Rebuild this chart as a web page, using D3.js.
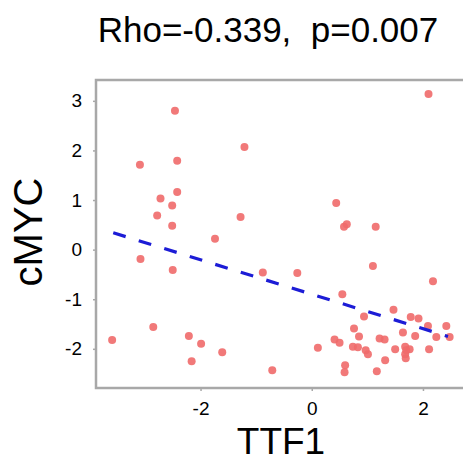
<!DOCTYPE html>
<html>
<head>
<meta charset="utf-8">
<script src="https://cdn.jsdelivr.net/npm/d3@7"></script>
<style>
html,body{margin:0;padding:0;background:#fff;overflow:hidden;}
text{font-family:"Liberation Sans",Arial,sans-serif;}
</style>
</head>
<body>
<svg id="chart" width="463" height="462"></svg>
<script>
const title = "Rho=-0.339,  p=0.007";
const xLabel = "TTF1";
const yLabel = "cMYC";
const xTicks = [-2, 0, 2];
const yTicks = [3, 2, 1, 0, -1, -2];
const ttf1 = [-2.46,-1.21,-3.09,-2.42,-2.42,-2.72,-2.51,-2.78,-1.28,-2.51,-1.74,-3.08,-2.50,-0.88,-2.85,-3.59,-2.21,-1.99,-1.61,-2.16,-0.71,
  2.10,0.44,0.58,0.63,1.15,1.10,-0.26,2.18,0.55,1.47,0.94,1.78,1.92,0.76,2.09,2.42,1.64,1.86,2.24,2.48,0.41,0.50,0.85,1.22,1.31,0.11,0.74,0.83,0.97,1.01,1.50,1.68,1.70,1.76,1.68,1.69,2.11,1.32,0.60,0.59,1.17];
const cmyc = [2.80,2.07,1.71,1.79,1.16,1.03,0.89,0.69,0.66,0.48,0.22,-0.19,-0.41,-0.46,-1.56,-1.82,-1.74,-1.90,-2.07,-2.25,-2.43,
  3.14,0.94,0.46,0.51,0.46,-0.33,-0.47,-0.64,-0.90,-1.21,-1.35,-1.36,-1.39,-1.59,-1.54,-1.54,-1.67,-1.74,-1.76,-1.76,-1.81,-1.88,-1.75,-1.79,-1.81,-1.98,-1.96,-1.97,-2.03,-2.11,-2.01,-1.96,-2.03,-2.01,-2.11,-2.19,-2.01,-2.23,-2.33,-2.47,-2.45];
const fitX = [-3.57, 2.45];
const fitY = [0.34, -1.75];

const svg = d3.select("#chart");
const m = {left:96, top:80, right:463, bottom:388};
const x = d3.scaleLinear().domain([-3.88, 2.72]).range([m.left, m.right]);
const y = d3.scaleLinear().domain([-2.79, 3.42]).range([m.bottom, m.top]);

// frame
svg.append("rect").attr("x", m.left).attr("y", m.top)
  .attr("width", m.right - m.left + 10).attr("height", m.bottom - m.top)
  .attr("fill", "#fff").attr("stroke", "#a8a8a8").attr("stroke-width", 2.5);

// axes
const fmt = d => String(d);
const gx = svg.append("g").attr("transform", `translate(0,${m.bottom})`)
  .call(d3.axisBottom(x).tickValues(xTicks).tickSize(3).tickPadding(11).tickFormat(fmt));
const gy = svg.append("g").attr("transform", `translate(${m.left},0)`)
  .call(d3.axisLeft(y).tickValues(yTicks).tickSize(3).tickPadding(11).tickFormat(fmt));
[gx, gy].forEach(g => {
  g.select(".domain").remove();
  g.selectAll(".tick line").attr("stroke", "#a8a8a8").attr("stroke-width", 1.5);
  g.selectAll(".tick text").attr("fill", "#000").style("font-size", "19px")
    .style("font-family", '"Liberation Sans", Arial, sans-serif');
});

// points
const pts = ttf1.map((v, i) => ({x: v, y: cmyc[i]}));
svg.append("g").selectAll("circle").data(pts).join("circle")
  .attr("cx", d => x(d.x)).attr("cy", d => y(d.y)).attr("r", 4)
  .attr("fill", "#ef6a6a").attr("fill-opacity", 0.9);

// regression line
svg.append("line")
  .attr("x1", x(fitX[0])).attr("y1", y(fitY[0]))
  .attr("x2", x(fitX[1])).attr("y2", y(fitY[1]))
  .attr("stroke", "#1c1cd6").attr("stroke-width", 3.2)
  .attr("stroke-dasharray", "13,13.7");

// titles
svg.append("text").attr("x", 268).attr("y", 42).attr("text-anchor", "middle")
  .style("font-size", "35px").style("white-space", "pre").attr("fill", "#000").text(title);
svg.append("text").attr("x", 281).attr("y", 454).attr("text-anchor", "middle")
  .style("font-size", "37px").attr("fill", "#000").text(xLabel);
svg.append("text").attr("transform", "translate(42,232) rotate(-90)").attr("text-anchor", "middle")
  .style("font-size", "40px").attr("fill", "#000").text(yLabel);
</script>
</body>
</html>
